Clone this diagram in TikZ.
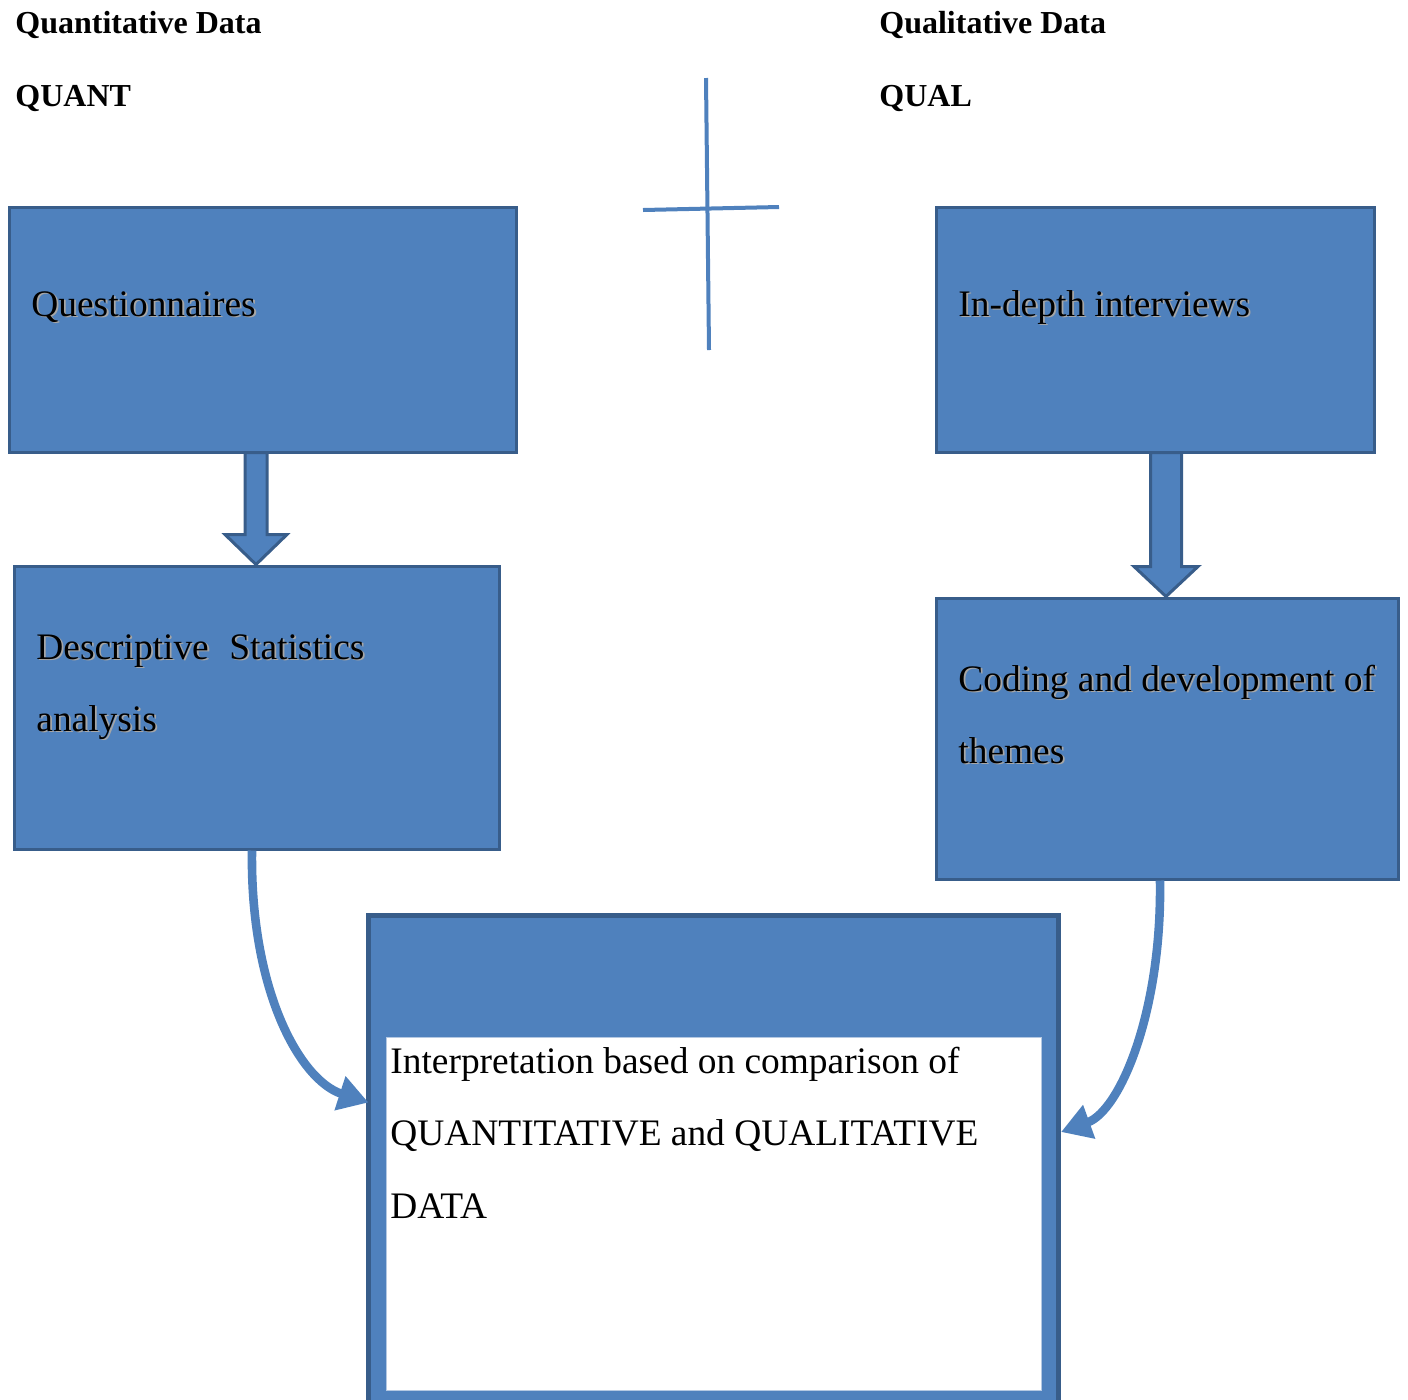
\documentclass[tikz,border=0pt]{standalone}
\usepackage{fontspec}
\setmainfont{Liberation Serif}
\usetikzlibrary{arrows.meta,calc}
\definecolor{boxfill}{HTML}{4F81BD}
\definecolor{boxedge}{HTML}{385D8A}
\definecolor{innerline}{HTML}{B4C8E2}
% text with a soft drop shadow, as used inside the blue boxes
\newcommand{\shadowed}[1]{\leavevmode\rlap{\hspace{0.9pt}\raisebox{-0.9pt}{\textcolor{black!35}{#1}}}#1}

\begin{document}
\begin{tikzpicture}[x=0.5pt,y=-0.5pt,
  box/.style={draw=boxedge, fill=boxfill, line width=1.5pt, inner sep=0pt, outer sep=0pt},
  heading/.style={font=\fontsize{16}{19}\selectfont\bfseries, anchor=base west, inner sep=0pt},
  boxtext/.style={font=\fontsize{18.7}{22}\selectfont, anchor=base west, inner sep=0pt},
  barrow/.style={draw=boxedge, fill=boxfill, line width=1.5pt, line join=miter},
  carrow/.style={draw=boxfill, line width=4.3pt, -{Triangle[length=15pt,width=17pt]}},
  crossline/.style={draw=boxfill, line width=2pt}]

\useasboundingbox (0,0) rectangle (1408,1399);
\clip (0,0) rectangle (1408,1399);

% column headings
\node[heading] (quanttitle) at (15,33) {Quantitative Data};
\node[heading] (quantlbl) at (15,106) {QUANT};
\node[heading] (qualtitle) at (879,33) {Qualitative Data};
\node[heading] (quallbl) at (879,106) {QUAL};

% plus sign between the two strands
\coordinate (vtop) at (706,78);
\coordinate (vbot) at (709,350);
\coordinate (hleft) at (643,210);
\coordinate (hright) at (779,207);
\draw[crossline] (vtop) -- (vbot);
\draw[crossline] (hleft) -- (hright);

% process boxes (positions of the box outlines)
\path (263,330) coordinate (questc);
\path (257,708) coordinate (descc);
\path (1155.5,330) coordinate (intervc);
\path (1167.5,739) coordinate (codingc);

% box outlines as invisible anchors, so the block arrows sit beneath the boxes
\node[box, minimum width=253.5pt, minimum height=122.5pt, draw=none, fill=none] (quest) at (questc) {};
\node[box, minimum width=242.5pt, minimum height=141.5pt, draw=none, fill=none] (desc) at (descc) {};
\node[box, minimum width=219pt, minimum height=122.5pt, draw=none, fill=none] (interv) at (intervc) {};
\node[box, minimum width=231pt, minimum height=140.5pt, draw=none, fill=none] (coding) at (codingc) {};

\draw[barrow] let \p1=(quest.south), \p2=(desc.north) in
  (\x2-0.5pt-5.5pt,\y1) -- (\x2-0.5pt-5.5pt,\y2+16pt) -- (\x2-0.5pt-15.5pt,\y2+16pt)
  -- (\x2-0.5pt,\y2+1pt) -- (\x2-0.5pt+15.5pt,\y2+16pt) -- (\x2-0.5pt+5.5pt,\y2+16pt)
  -- (\x2-0.5pt+5.5pt,\y1) -- cycle;
\draw[barrow] let \p1=(interv.south), \p2=(coding.north) in
  (\x2-0.75pt-7.75pt,\y1) -- (\x2-0.75pt-7.75pt,\y2+16pt) -- (\x2-0.75pt-16pt,\y2+16pt)
  -- (\x2-0.75pt,\y2+1pt) -- (\x2-0.75pt+16pt,\y2+16pt) -- (\x2-0.75pt+7.75pt,\y2+16pt)
  -- (\x2-0.75pt+7.75pt,\y1) -- cycle;

\node[box, minimum width=253.5pt, minimum height=122.5pt] at (questc) {};
\node[box, minimum width=242.5pt, minimum height=141.5pt] at (descc) {};
\node[box, minimum width=219pt, minimum height=122.5pt] at (intervc) {};
\node[box, minimum width=231pt, minimum height=140.5pt] at (codingc) {};

% final interpretation box with its white text panel
\node[box, line width=2.5pt, minimum width=345pt, minimum height=252.25pt] (fin) at (713.5,1167.75) {};
\node[draw=innerline, fill=white, line width=0.5pt, inner sep=0pt, minimum width=327.5pt, minimum height=176.5pt] (interp) at (713.5,1213.5) {};

% box texts
\node[boxtext] (questtxt) at (31,316) {\shadowed{Questionnaires}};
\node[boxtext] (desctxta) at (36,659) {\shadowed{Descriptive\hspace{0.55em}Statistics}};
\node[boxtext] (desctxtb) at (36,731) {\shadowed{analysis}};
\node[boxtext] (intervtxt) at (958,316) {\shadowed{In-depth interviews}};
\node[boxtext] (codingtxta) at (958,691) {\shadowed{Coding and development of}};
\node[boxtext] (codingtxtb) at (958,763) {\shadowed{themes}};
\node[boxtext] (interptxta) at (390,1073) {Interpretation based on comparison of};
\node[boxtext] (interptxtb) at (390,1145) {QUANTITATIVE and QUALITATIVE};
\node[boxtext] (interptxtc) at (390,1218) {DATA};

% curved arrows feeding the interpretation box
\draw[carrow] ($(desc.south)+(-5,1)$) .. controls ($(desc.south)+(-7,142)$) and ($(fin.north west)+(-68,165)$) .. ($(fin.north west)+(0,187)$);
\draw[carrow] ($(coding.south)+(-7.5,1)$) .. controls ($(coding.south)+(-5.5,131)$) and ($(fin.north east)+(62,195)$) .. ($(fin.north east)+(2.5,216.5)$);

\end{tikzpicture}
\end{document}
